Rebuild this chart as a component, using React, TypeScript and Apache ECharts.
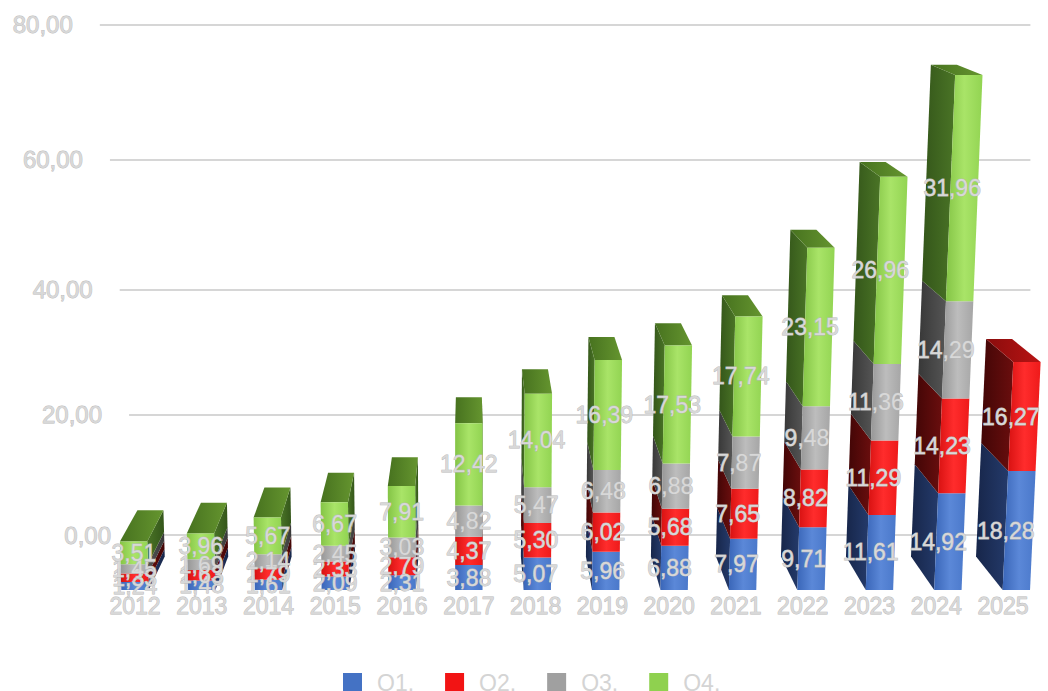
import React, { useEffect, useRef } from 'react';
import * as echarts from 'echarts';

const years = ['2012', '2013', '2014', '2015', '2016', '2017', '2018', '2019', '2020', '2021', '2022', '2023', '2024', '2025'];
const q1 = [1.24, 1.48, 1.61, 2.09, 2.31, 3.88, 5.07, 5.96, 6.88, 7.97, 9.71, 11.61, 14.92, 18.28];
const q2 = [1.33, 1.63, 1.79, 2.33, 2.79, 4.37, 5.30, 6.02, 5.68, 7.65, 8.82, 11.29, 14.23, 16.27];
const q3 = [1.45, 1.69, 2.14, 2.45, 3.03, 4.82, 5.47, 6.48, 6.88, 7.87, 9.48, 11.36, 14.29, null];
const q4 = [3.51, 3.96, 5.67, 6.67, 7.91, 12.42, 14.04, 16.39, 17.53, 17.74, 23.15, 26.96, 31.96, null];
const yTicks = [0, 20, 40, 60, 80];
const seriesNames = ['Q1.', 'Q2.', 'Q3.', 'Q4.'];

const FONT = '"Liberation Sans", Arial, Helvetica, sans-serif';
const TXT = '#d8d8d8';
const TXT_BORDER = '#b8b8b8';

// face palettes: legend colour, front gradient, side gradient, top gradient
const palettes = [
  { legend: '#4472c4', front: ['#3a66b8', '#5b88d8', '#4a78ca'], side: ['#17264a', '#243a6a'], top: ['#2a4a88', '#3c62a8'] },
  { legend: '#f21414', front: ['#d81212', '#ff2c2c', '#ee1a1a'], side: ['#420606', '#6a0e0e'], top: ['#8a0c0c', '#b81414'] },
  { legend: '#a0a0a0', front: ['#979797', '#bdbdbd', '#a6a6a6'], side: ['#383838', '#555555'], top: ['#6a6a6a', '#8a8a8a'] },
  { legend: '#8fd14f', front: ['#84c446', '#a9e468', '#92d452'], side: ['#34561a', '#4a7426'], top: ['#47721f', '#65952f'] },
];

// pseudo-perspective parameters (layout only)
const VPX = 470;
const CX = 0.05;
const VPY = -152;
const CY = 0.045;
const LEAN = 0.85e-4;
const GROW = 1.39e-4;

const fmt = (v: number) => v.toFixed(2).replace('.', ',');

const grad = (cols: string[]) =>
  new echarts.graphic.LinearGradient(0, 0, 1, 0,
    cols.map((c, k) => ({ offset: cols.length === 1 ? 0 : k / (cols.length - 1), color: c })));

export default function App() {
  const ref = useRef<HTMLDivElement>(null);

  useEffect(() => {
    if (!ref.current) return;
    const chart = echarts.init(ref.current, undefined, { renderer: 'svg' });

    const all = [q1, q2, q3, q4];
    const lastIdx = years.map((_, i) => {
      let l = -1;
      all.forEach((arr, s) => { if (arr[i] != null) l = s; });
      return l;
    });

    const barSeries = all.map((arr, s) => {
      const data: number[][] = [];
      arr.forEach((v, i) => {
        if (v == null) return;
        let start = 0;
        for (let k = 0; k < s; k++) start += (all[k][i] as number) || 0;
        data.push([i, start, start + (v as number), lastIdx[i] === s ? 1 : 0, v as number]);
      });
      const pal = palettes[s];
      return {
        type: 'custom',
        name: seriesNames[s],
        clip: false,
        z: 2,
        itemStyle: { color: pal.legend },
        encode: { x: 0, y: [1, 2] },
        data,
        renderItem: (params: any, api: any) => {
          const i = api.value(0);
          const v0 = api.value(1);
          const v1 = api.value(2);
          const isTop = api.value(3);
          const val = api.value(4);
          const base = api.coord([i, 0]);
          const cx0 = base[0];
          const B = base[1];
          const band = api.size([1, 0])[0];
          const W = band * 0.41;
          const h0b = B - api.coord([i, v0])[1];
          const h0t = B - api.coord([i, v1])[1];
          const hb = h0b * (1 + GROW * h0b);
          const ht = h0t * (1 + GROW * h0t);
          const dxc = CX * (VPX - cx0);
          const cx = cx0 + (dxc < 0 ? -dxc / 2 : 0);
          const lean = (h: number) => LEAN * (cx - VPX) * h;
          const yb = B - hb;
          const yt = B - ht;
          const xl = (h: number) => cx - W / 2 + lean(h);
          const xr = (h: number) => cx + W / 2 + lean(h);
          const back = (p: number[]) => [p[0] + CX * (VPX - p[0]), p[1] + CY * (VPY - p[1])];
          const edge = dxc > 0 ? xr : xl;
          const fb = [edge(hb), yb];
          const ft = [edge(ht), yt];
          const children: any[] = [];
          children.push({
            type: 'polygon',
            shape: { points: [fb, ft, back(ft), back(fb)] },
            style: { fill: grad(dxc > 0 ? [pal.side[1], pal.side[0]] : pal.side), stroke: null },
          });
          if (isTop) {
            const a = [xl(ht), yt];
            const b = [xr(ht), yt];
            children.push({
              type: 'polygon',
              shape: { points: [a, b, back(b), back(a)] },
              style: { fill: grad(pal.top), stroke: null },
            });
          }
          children.push({
            type: 'polygon',
            shape: { points: [[xl(hb), yb], [xr(hb), yb], [xr(ht), yt], [xl(ht), yt]] },
            style: { fill: grad(pal.front), stroke: null },
          });
          const hm = (hb + ht) / 2;
          children.push({
            type: 'text',
            z2: 100,
            style: {
              x: cx0 + LEAN * (cx0 - VPX) * hm,
              y: B - hm,
              text: fmt(val),
              align: 'center',
              verticalAlign: 'middle',
              fontSize: 23,
              fontFamily: FONT,
              fill: TXT,
              stroke: TXT_BORDER,
              lineWidth: 0.8,
            },
          });
          return { type: 'group', children };
        },
      };
    });

    const gridSeries = {
      type: 'custom',
      clip: false,
      z: 1,
      silent: true,
      encode: { x: 0, y: 1 },
      data: yTicks.map((v) => [0, v]),
      renderItem: (params: any, api: any) => {
        const v = api.value(1);
        const B = api.coord([0, 0])[1];
        const h0 = B - api.coord([0, v])[1];
        const hBack = 0.918 * h0 + 1.526e-4 * h0 * h0;
        const y = B - 55 - hBack;
        const cs = params.coordSys;
        const xLeft = cs.x - 2 + (y - 22) * 0.075;
        const xRight = cs.x + cs.width - 6;
        return {
          type: 'group',
          children: [
            {
              type: 'line',
              shape: { x1: xLeft, y1: y, x2: xRight, y2: y },
              style: { stroke: '#d6d6d6', lineWidth: 2 },
            },
            {
              type: 'text',
              style: {
                x: xLeft - 27,
                y,
                text: fmt(v),
                align: 'right',
                verticalAlign: 'middle',
                fontSize: 24,
                fontFamily: FONT,
                fill: TXT,
                stroke: TXT_BORDER,
                lineWidth: 0.8,
              },
            },
          ],
        };
      },
    };

    chart.setOption({
      animation: false,
      backgroundColor: '#ffffff',
      grid: { left: 101.6, right: 11.6, top: 78, bottom: 101, containLabel: false },
      xAxis: {
        type: 'category',
        data: years,
        axisLine: { show: false },
        axisTick: { show: false },
        splitLine: { show: false },
        axisLabel: {
          margin: 4,
          fontSize: 23,
          fontFamily: FONT,
          color: TXT,
          textBorderColor: TXT_BORDER,
          textBorderWidth: 0.8,
          interval: 0,
        },
      },
      yAxis: { type: 'value', min: 0, max: 80, interval: 20, show: false },
      legend: {
        data: seriesNames,
        left: 343,
        top: 671,
        padding: 0,
        icon: 'rect',
        itemWidth: 19,
        itemHeight: 19,
        itemGap: 31,
        textStyle: { fontSize: 23, lineHeight: 19, fontFamily: FONT, color: '#d4d4d4', padding: [0, 0, 0, 10] },
        selectedMode: false,
      },
      series: [gridSeries, ...barSeries],
    } as any);

    return () => chart.dispose();
  }, []);

  return <div ref={ref} style={{ position: 'fixed', left: 0, top: 0, width: 1048, height: 691 }} />;
}
